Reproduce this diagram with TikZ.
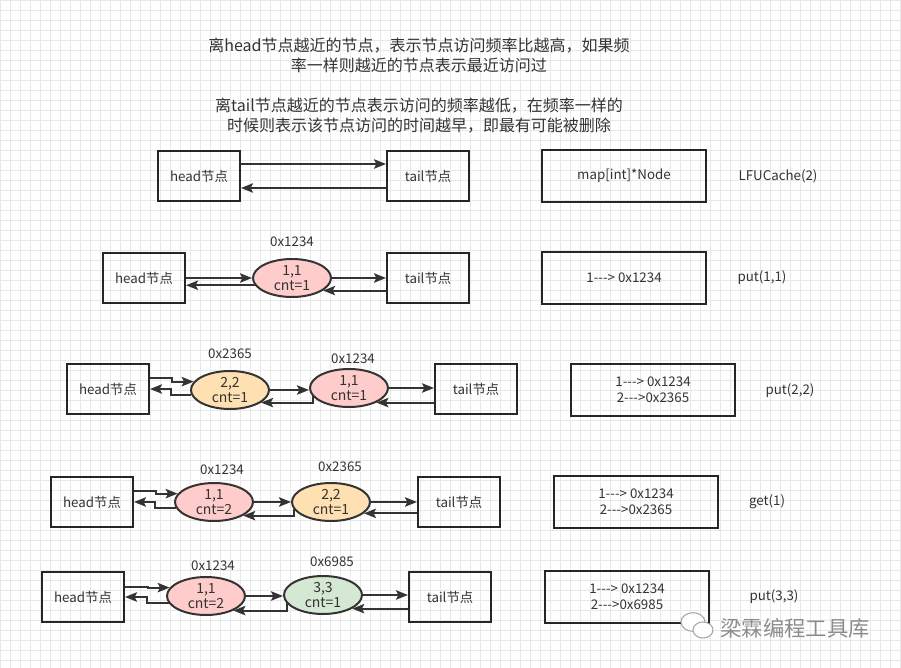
\documentclass[tikz,border=0pt]{standalone}
\usepackage{fontspec}
\newfontfamily\cjkfont{Noto Sans CJK SC}
\usetikzlibrary{shapes.geometric,arrows.meta}
\definecolor{ink}{HTML}{333333}
\definecolor{gridc}{HTML}{E8E8E8}
\definecolor{pinkfill}{HTML}{FFCCCC}
\definecolor{orangefill}{HTML}{FFE0B3}
\definecolor{greenfill}{HTML}{D5E8D4}
\begin{document}
\begin{tikzpicture}[x=0.75pt,y=-0.75pt,
  font=\cjkfont\fontsize{10}{12}\selectfont, text=ink,
  box/.style={draw=black!85, line width=1.5pt, minimum width=61.5pt, minimum height=37.5pt, inner sep=0pt},
  mapbox/.style={box, minimum width=123pt, minimum height=39pt, align=center},
  entry/.style={ellipse, draw=ink, line width=1.5pt, minimum width=58.5pt, minimum height=28.5pt, inner sep=0pt, align=center, font=\cjkfont\fontsize{10.5}{11}\selectfont},
  arr/.style={-{Stealth[length=9pt,width=7pt,inset=1.8pt]}, line width=1.5pt, draw=ink},
  note/.style={align=center, font=\cjkfont\fontsize{12}{15}\selectfont},
  bubble/.style={ellipse, draw=black!35, line width=0.8pt, fill=white, inner sep=0pt}]
\useasboundingbox (0,0) rectangle (901,668);
\draw[gridc, line width=0.5pt] (0,0) grid[step=7.5pt] (901,668);
\node[note] (note1) at (419,55) {离head节点越近的节点，表示节点访问频率比越高，如果频\\率一样则越近的节点表示最近访问过};
\node[note] (note2) at (419,115.5) {离tail节点越近的节点表示访问的频率越低，在频率一样的\\时候则表示该节点访问的时间越早，即最有可能被删除};
\node[box] (h0) at (199,176) {head节点};
\node[box] (t0) at (428,176) {tail节点};
\draw[arr] ([yshift=9pt]h0.east) -- ([yshift=9pt]t0.west);
\draw[arr] ([yshift=-9pt]t0.west) -- ([yshift=-9pt]h0.east);
\node[mapbox] (m0) at (624,176) {map[int]*Node};
\node (op0) at (778,176) {LFUCache(2)};
\node[box] (h1) at (144,278) {head节点};
\node[entry, fill=pinkfill] (n11) at (292,278) {1,1\\cnt=1};
\node[box] (t1) at (428,278) {tail节点};
\node (p11) at (292,242) {0x1234};
\draw[arr] (h1.east |- n11.west) -- (n11.west);
\draw[arr] (n11.191) -- (h1.east |- n11.191);
\draw[arr] (n11.east) -- (t1.west |- n11.east);
\draw[arr] (t1.west |- n11.338) -- (n11.338);
\node[mapbox] (m1) at (624,278) {1---> 0x1234};
\node (op1) at (762,278) {put(1,1)};
\node[box] (h2) at (108,389) {head节点};
\node[entry, fill=orangefill] (n22) at (230,390) {2,2\\cnt=1};
\node[entry, fill=pinkfill] (n21) at (349,388) {1,1\\cnt=1};
\node[box] (t2) at (476,389) {tail节点};
\node (p22) at (230,354) {0x2365};
\node (p21) at (353,359) {0x1234};
\draw[arr] ([yshift=8pt]h2.east) -- ++(22,0) |- (n22.167);
\draw[arr] (n22.188) -- ++(-20,0) |- (h2.east);
\draw[arr] (n22.east) -- (n21.west |- n22.east);
\draw[arr] (n21.193) |- (n22.338);
\draw[arr] (n21.east) -- (t2.west |- n21.east);
\draw[arr] (t2.west |- n21.332) -- (n21.332);
\node[mapbox] (m2) at (653,390) {1---> 0x1234\\2--->0x2365};
\node (op2) at (790,391) {put(2,2)};
\node[box] (h3) at (92,502) {head节点};
\node[entry, fill=pinkfill] (n31) at (214,502) {1,1\\cnt=2};
\node[entry, fill=orangefill] (n32) at (331,502) {2,2\\cnt=1};
\node[box] (t3) at (459,502) {tail节点};
\node (p31) at (222,470) {0x1234};
\node (p32) at (340,467) {0x2365};
\draw[arr] ([yshift=8pt]h3.east) -- ++(22,0) |- (n31.167);
\draw[arr] (n31.189) -- ++(-21,0) |- (h3.east);
\draw[arr] (n31.east) -- (n32.west);
\draw[arr] (n32.191) |- (n31.335);
\draw[arr] (n32.east) -- (t3.west);
\draw[arr] (t3.west |- n32.341) -- (n32.341);
\node[mapbox] (m3) at (636,502) {1---> 0x1234\\2--->0x2365};
\node (op3) at (767,502) {get(1)};
\node[box] (h4) at (83,597) {head节点};
\node[entry, fill=pinkfill] (n41) at (206,596) {1,1\\cnt=2};
\node[entry, fill=greenfill] (n43) at (323,595) {3,3\\cnt=1};
\node[box] (t4) at (450,597) {tail节点};
\node (p41) at (213,566) {0x1234};
\node (p43) at (332,562) {0x6985};
\draw[arr] ([yshift=7.5pt]h4.east) -- ++(23,0) |- (n41.167);
\draw[arr] (n41.191) -- ++(-22,0) |- (h4.east);
\draw[arr] (n41.east) -- (n43.west |- n41.east);
\draw[arr] (n43.193) |- (n41.332);
\draw[arr] (n43.east) -- (t4.west |- n43.east);
\draw[arr] (t4.west |- n43.335) -- (n43.335);
\node[mapbox] (m4) at (627,597) {1---> 0x1234\\2--->0x6985};
\node (op4) at (774,597) {put(3,3)};
\node[bubble, minimum width=18pt, minimum height=14pt] (wx1) at (693,622) {};
\node[bubble, minimum width=15pt, minimum height=12pt] (wx2) at (703,630) {};
\node[text=black!45, font=\cjkfont\fontsize{16}{18}\selectfont] (mark) at (795,628) {梁霖编程工具库};
\end{tikzpicture}
\end{document}
